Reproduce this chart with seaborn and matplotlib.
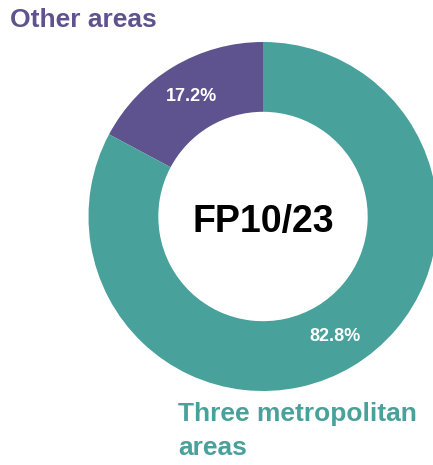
import matplotlib
matplotlib.use("Agg")
import matplotlib.pyplot as plt
import seaborn as sns

# Data
categories = ['Other areas', 'Three metropolitan areas']
shares = [17.2, 82.8]
center_label = 'FP10/23'
colors = ['#5E538E', '#48A19A']

sns.set_theme(style="white")
plt.rcParams['font.family'] = ['Liberation Sans', 'DejaVu Sans']

fig = plt.figure(figsize=(4.33, 4.65), dpi=100)
ax = fig.add_axes([88.5 / 433, (465 - 391) / 465, 349 / 433, 349 / 465])

wedges, texts, autotexts = ax.pie(
    shares, colors=colors, startangle=90, counterclock=True,
    autopct=lambda p: f'{p:.1f}%', pctdistance=0.8,
    wedgeprops={'width': 0.4, 'linewidth': 0})
for w in wedges:
    w.set_clip_on(False)
for t in autotexts:
    t.set_color('white')
    t.set_fontsize(13)
    t.set_fontweight('bold')
ax.set_xlim(-1, 1)
ax.set_ylim(-1, 1)
ax.set_aspect('equal')
ax.axis('off')

ax.text(0, -0.03, center_label, ha='center', va='center',
        fontsize=27, fontweight='bold', color='black')

fig.text(10 / 433, 1 - 20 / 465, 'Other areas', ha='left', va='center',
         fontsize=19, fontweight='bold', color=colors[0])
fig.text(178 / 433, 1 - 431 / 465, 'Three metropolitan\nareas', ha='left', va='center',
         fontsize=19, fontweight='bold', color=colors[1], linespacing=1.5)

fig.savefig('out.png', dpi=100)
